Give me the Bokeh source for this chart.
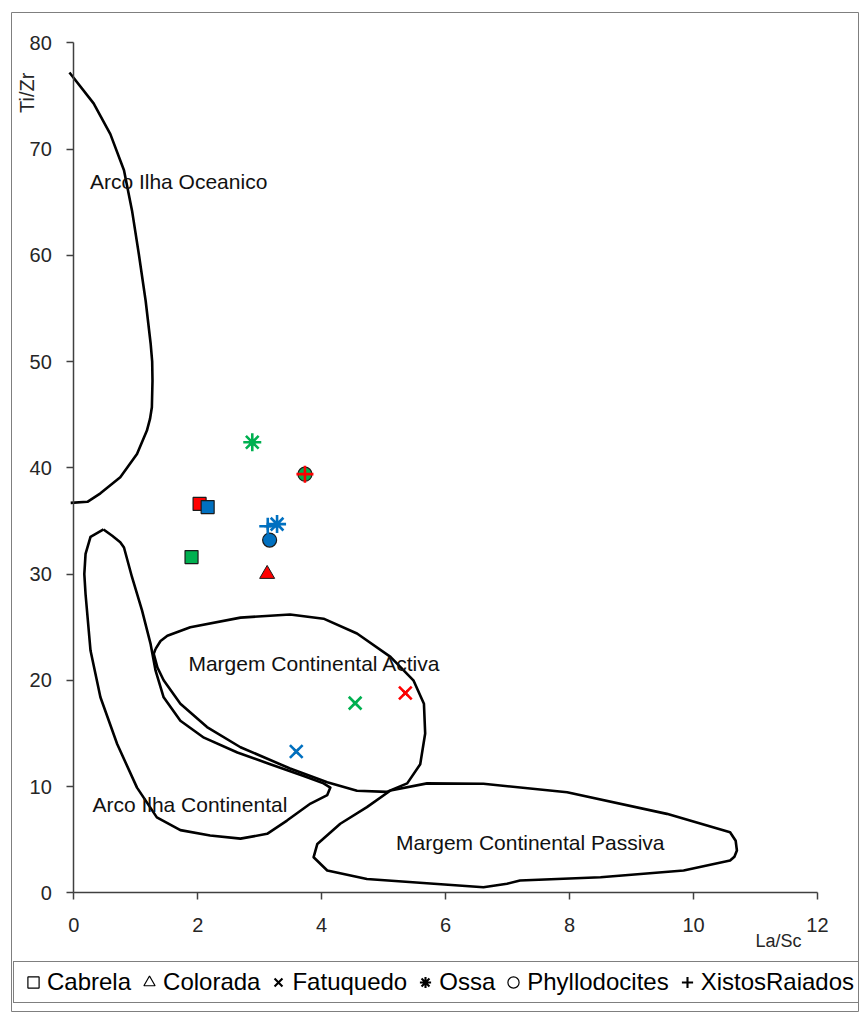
from bokeh.plotting import figure
from bokeh.models import Range1d, Label, Legend, LegendItem, FixedTicker, ColumnDataSource, LinearAxis
from bokeh.embed import file_html
from bokeh.resources import INLINE
import math

RED = "#FF0000"
GREEN = "#00B050"
BLUE = "#0070C0"

# ---- sample series: La/Sc (x), Ti/Zr (y), colour group ----
cabrela_x = [2.03, 2.16, 1.90]
cabrela_y = [36.6, 36.3, 31.6]
cabrela_c = [RED, BLUE, GREEN]

colorada_x = [3.12]
colorada_y = [30.0]
colorada_c = [RED]

fatuquedo_x = [5.35, 4.54, 3.59]
fatuquedo_y = [18.8, 17.85, 13.3]
fatuquedo_c = [RED, GREEN, BLUE]

ossa_x = [2.88, 3.28]
ossa_y = [42.4, 34.7]
ossa_c = [GREEN, BLUE]

phyllo_x = [3.73, 3.16]
phyllo_y = [39.4, 33.2]
phyllo_c = [GREEN, BLUE]

xistos_x = [3.73, 3.13]
xistos_y = [39.4, 34.5]
xistos_c = [RED, BLUE]

series_names = ["Cabrela", "Colorada", "Fatuquedo", "Ossa", "Phyllodocites", "XistosRaiados"]
series_markers = ["square", "triangle", "x", "asterisk", "circle", "cross"]
series_x = [cabrela_x, colorada_x, fatuquedo_x, ossa_x, phyllo_x, xistos_x]
series_y = [cabrela_y, colorada_y, fatuquedo_y, ossa_y, phyllo_y, xistos_y]

# ---- tectonic field boundaries (traced) ----
oceanico_x = [-0.07, 0.32, 0.59, 0.81, 0.94, 1.05, 1.16, 1.24, 1.265, 1.27, 1.26, 1.23, 1.18, 1.02, 0.75, 0.43, 0.22, -0.05]
oceanico_y = [77.2, 74.3, 71.4, 68.0, 64.2, 60.1, 55.7, 51.7, 50.0, 48.2, 45.7, 44.6, 43.5, 41.3, 39.1, 37.6, 36.8, 36.7]

arco_cont_x = [0.48, 0.27, 0.19, 0.17, 0.19, 0.27, 0.43, 0.70, 1.02, 1.34, 1.72, 2.2, 2.69, 3.12, 3.44, 3.82, 4.09, 4.14, 4.03, 3.71, 3.17, 2.64, 2.10, 1.72, 1.45, 1.32, 1.24, 1.10, 0.94, 0.81, 0.75, 0.62, 0.48]
arco_cont_y = [34.2, 33.5, 31.9, 30.0, 28.1, 22.8, 18.4, 14.0, 9.9, 7.1, 5.9, 5.4, 5.1, 5.55, 6.8, 8.4, 9.2, 9.9, 10.3, 11.0, 12.1, 13.2, 14.6, 16.2, 18.4, 20.9, 23.4, 26.6, 29.7, 32.5, 33.0, 33.6, 34.2]

activa_x = [1.32, 1.40, 1.51, 1.88, 2.69, 3.49, 4.03, 4.57, 5.11, 5.48, 5.65, 5.67, 5.59, 5.38, 5.05, 4.57, 4.09, 3.49, 2.69, 2.15, 1.72, 1.45, 1.35, 1.29, 1.32]
activa_y = [22.96, 23.7, 24.2, 25.0, 25.9, 26.2, 25.8, 24.4, 22.2, 20.0, 17.8, 15.0, 12.1, 10.3, 9.5, 9.6, 10.4, 11.7, 13.7, 15.6, 17.8, 20.0, 21.2, 22.5, 22.96]

passiva_x = [5.11, 5.70, 6.61, 7.96, 9.57, 10.59, 10.68, 10.70, 10.66, 10.59, 9.84, 8.50, 7.2, 6.99, 6.61, 5.81, 4.73, 4.09, 3.87, 3.93, 4.30, 4.73, 5.11]
passiva_y = [9.63, 10.3, 10.26, 9.47, 7.43, 5.7, 4.9, 3.98, 3.4, 3.04, 2.1, 1.47, 1.16, 0.85, 0.53, 0.85, 1.3, 2.1, 3.35, 4.6, 6.5, 8.06, 9.63]

field_labels = ["Arco Ilha Oceanico", "Margem Continental Activa", "Arco Ilha Continental", "Margem Continental Passiva"]
field_label_x = [0.26, 1.85, 0.30, 5.20]
field_label_y = [66.9, 21.6, 8.3, 4.7]

x_ticks = [0, 2, 4, 6, 8, 10, 12]
y_ticks = [0, 10, 20, 30, 40, 50, 60, 70, 80]

FONT = "Liberation Sans"

# The frame spans the whole chart box; axes sit at La/Sc = 0 and Ti/Zr = 0.
p = figure(width=866, height=1016,
           x_range=Range1d(-1.005, 12.662), y_range=Range1d(-11.17, 82.85),
           x_axis_location=None, y_axis_location=None,
           output_backend="svg", toolbar_location=None,
           min_border_left=11, min_border_right=8, min_border_top=12, min_border_bottom=5)
p.outline_line_color = "#7f7f7f"
p.outline_line_width = 1
for g in p.grid:
    g.visible = False

xaxis = LinearAxis(fixed_location=0, bounds=(0, 12), ticker=FixedTicker(ticks=x_ticks))
yaxis = LinearAxis(fixed_location=0, bounds=(0, 80), ticker=FixedTicker(ticks=y_ticks))
for ax in (xaxis, yaxis):
    ax.minor_tick_line_color = None
    ax.major_tick_in = 0
    ax.major_tick_out = 7
    ax.axis_line_color = "#404040"
    ax.axis_line_width = 1.5
    ax.major_tick_line_color = "#404040"
    ax.major_tick_line_width = 1.5
    ax.major_label_text_font = FONT
    ax.major_label_text_font_size = "20px"
    ax.major_label_text_color = "#262626"
xaxis.major_label_standoff = 18
yaxis.major_label_standoff = 15
p.add_layout(xaxis, "below")
p.add_layout(yaxis, "left")

# field boundaries
for fx, fy in ((oceanico_x, oceanico_y), (arco_cont_x, arco_cont_y),
               (activa_x, activa_y), (passiva_x, passiva_y)):
    p.line(fx, fy, line_color="black", line_width=2.6, line_join="round")

for t, lx, ly in zip(field_labels, field_label_x, field_label_y):
    p.add_layout(Label(x=lx, y=ly, text=t, text_font=FONT, text_font_size="21px",
                       text_color="#111111", text_baseline="middle", text_align="left"))

# legend symbols: small black outline markers drawn beneath each series' coloured marks
items = []
for name, mk, sx, sy in zip(series_names, series_markers, series_x, series_y):
    lw = 2.1 if mk in ("x", "asterisk", "cross") else 1.2
    r = p.scatter(x=sx, y=sy, marker=mk, size=7, fill_color=None,
                  line_color="black", line_width=lw)
    items.append(LegendItem(label=name, renderers=[r]))

# data points
def src(x, y, c):
    return ColumnDataSource(dict(x=x, y=y, c=c))

p.scatter("x", "y", source=src(cabrela_x, cabrela_y, cabrela_c), marker="square", size=13,
          fill_color="c", line_color="#1a1a1a", line_width=1.2)
p.scatter("x", "y", source=src(colorada_x, colorada_y, colorada_c), marker="triangle", size=15,
          fill_color="c", line_color="#1a1a1a", line_width=1.0)
p.scatter("x", "y", source=src(phyllo_x, phyllo_y, phyllo_c), marker="circle", size=14,
          fill_color="c", line_color="#1a1a1a", line_width=1.2)
p.scatter("x", "y", source=src(fatuquedo_x, fatuquedo_y, fatuquedo_c), marker="x", size=18,
          line_color="c", line_width=2.6)
p.scatter("x", "y", source=src(ossa_x, ossa_y, ossa_c), marker="asterisk", size=18,
          line_color="c", line_width=2.6)
p.scatter("x", "y", source=src(xistos_x, xistos_y, xistos_c), marker="cross", size=17,
          line_color="c", line_width=2.6)

legend = Legend(items=items, orientation="horizontal", location=(2, 8),
                glyph_width=28, glyph_height=30, label_standoff=0, spacing=4,
                padding=5, margin=0,
                label_text_font=FONT, label_text_font_size="24px", label_text_color="black",
                border_line_color="black", border_line_width=1, background_fill_color="white",
                background_fill_alpha=1.0)
p.add_layout(legend, "center")

# axis titles
p.add_layout(Label(x=11.0, y=-4.5, text="La/Sc", text_font=FONT, text_font_size="18px",
                   text_color="#262626", text_baseline="middle", text_align="left"))
p.add_layout(Label(x=-0.76, y=75.3, text="Ti/Zr", text_font=FONT, text_font_size="20px",
                   text_color="#262626", text_baseline="middle", text_align="center",
                   angle=math.pi / 2))

open("out.html", "w").write(file_html(p, INLINE))
